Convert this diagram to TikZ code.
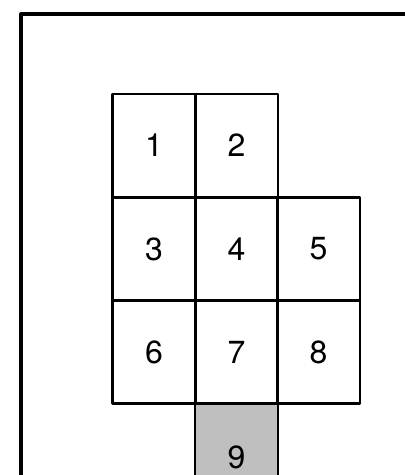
\documentclass[tikz,border=0pt]{standalone}
\usepackage{fontspec}
\setmainfont{TeX Gyre Heros}
\begin{document}
\begin{tikzpicture}[x=1pt,y=1pt,line join=round,line cap=round,
		cell/.style={draw,line width=2.4pt,minimum width=83pt,minimum height=103pt,inner sep=0pt},
		num/.style={font=\fontsize{32}{36}\selectfont}]
		\clip (0,0) rectangle (405,-475);
		\useasboundingbox (0,0) rectangle (405,-475);
		% frame
		\path (21,-490) coordinate (F1)
		(21,-14) coordinate (F2)
		(420,-14) coordinate (F3);
		\draw[line width=3.2pt] (F1)--(F2)--(F3);
		% shaded cell under 7
		\node[cell,fill=black!25,minimum height=120pt] (c9) at (236.5,-463) {};
		\node[num] (n9) at (236.5,-457) {9};
		% grid of cells
		\foreach \n/\x/\y in {1/154/-145.5,2/236.5/-145.5,3/154/-249,4/236.5/-249,5/318.5/-249,
			6/154/-352,7/236.5/-352,8/318.5/-352
		}{\node[cell,num] (c\n) at (\x,\y) {\n};}
\end{tikzpicture}
\end{document}
